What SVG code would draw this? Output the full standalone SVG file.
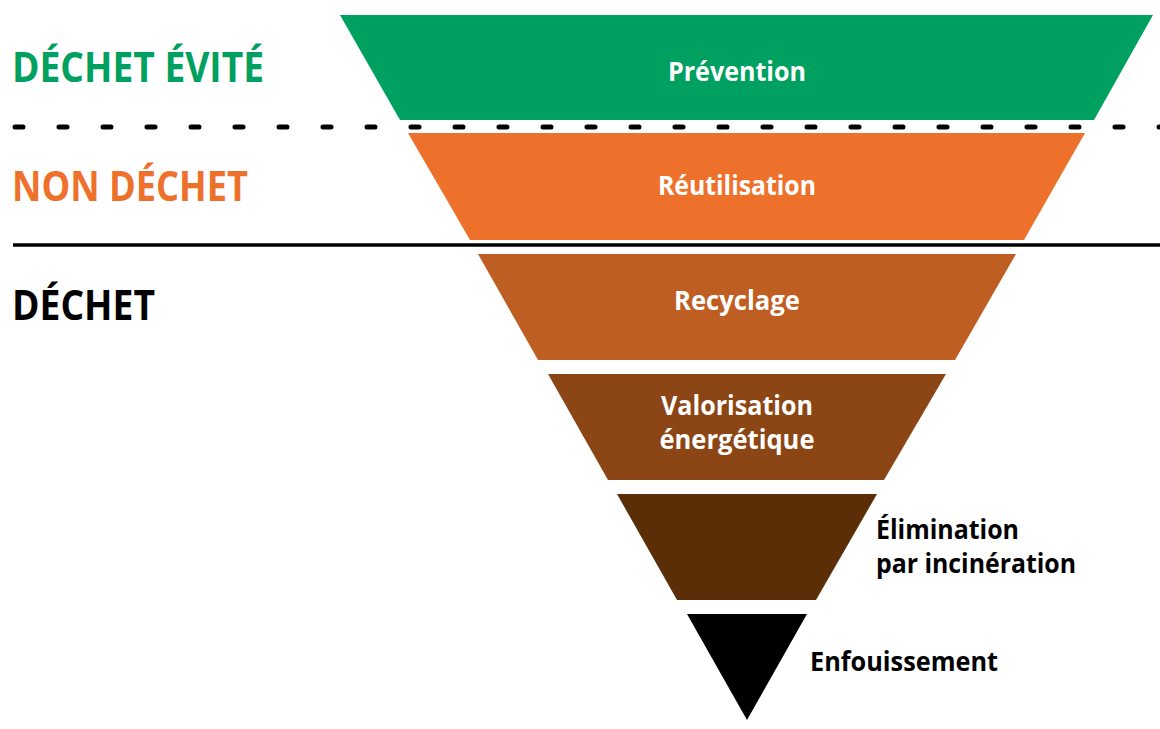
<svg xmlns="http://www.w3.org/2000/svg" width="1160" height="729" viewBox="0 0 1160 729">
<style>
.lvl{font-family:"Open Sans","Liberation Sans",sans-serif;font-weight:700;font-size:26.5px;fill:#fff;text-anchor:middle}
.side{font-family:"Open Sans","Liberation Sans",sans-serif;font-weight:700;font-size:26.5px;fill:#000}
.cat{font-family:"Open Sans","Liberation Sans",sans-serif;font-weight:700;font-size:42px}
</style>
<rect width="1160" height="729" fill="#fff"/>
<g id="connectors">
<line x1="15" y1="127" x2="1160" y2="127" stroke="#000" stroke-width="5" stroke-linecap="round" stroke-dasharray="8 36"/>
<line x1="13" y1="245" x2="1160" y2="245" stroke="#000" stroke-width="3.5"/>
</g>
<g id="cat-evite"><text class="cat" x="12" y="82" fill="#00a160" textLength="252" lengthAdjust="spacingAndGlyphs">DÉCHET ÉVITÉ</text></g>
<g id="cat-non"><text class="cat" x="12" y="201" fill="#ee712b" textLength="236" lengthAdjust="spacingAndGlyphs">NON DÉCHET</text></g>
<g id="cat-dechet"><text class="cat" x="12" y="320" fill="#000" textLength="143" lengthAdjust="spacingAndGlyphs">DÉCHET</text></g>
<g id="prevention">
<polygon points="340,15 1153,15 1094,120 400,120" fill="#00a160"/>
<text class="lvl" x="737" y="81" textLength="138" lengthAdjust="spacingAndGlyphs">Prévention</text>
</g>
<g id="reutilisation">
<polygon points="408,133 1085,133 1024,240 470,240" fill="#ee712b"/>
<text class="lvl" x="737" y="195" textLength="158" lengthAdjust="spacingAndGlyphs">Réutilisation</text>
</g>
<g id="recyclage">
<polygon points="478,254 1016,254 955,360 538,360" fill="#bf5e22"/>
<text class="lvl" x="737" y="310" textLength="126" lengthAdjust="spacingAndGlyphs">Recyclage</text>
</g>
<g id="valorisation">
<polygon points="548,374 946,374 884,480 608,480" fill="#8c4515"/>
<text class="lvl" x="737" y="415" textLength="152" lengthAdjust="spacingAndGlyphs">Valorisation</text>
<text class="lvl" x="737" y="449" textLength="155" lengthAdjust="spacingAndGlyphs">énergétique</text>
</g>
<g id="elimination">
<polygon points="617,494 877,494 816,600 677,600" fill="#5c2e08"/>
<text class="side" x="876" y="539" textLength="143" lengthAdjust="spacingAndGlyphs">Élimination</text>
<text class="side" x="876" y="573" textLength="200" lengthAdjust="spacingAndGlyphs">par incinération</text>
</g>
<g id="enfouissement">
<polygon points="687,614 807,614 747,720" fill="#000"/>
<text class="side" x="810" y="671" textLength="188" lengthAdjust="spacingAndGlyphs">Enfouissement</text>
</g>
</svg>
